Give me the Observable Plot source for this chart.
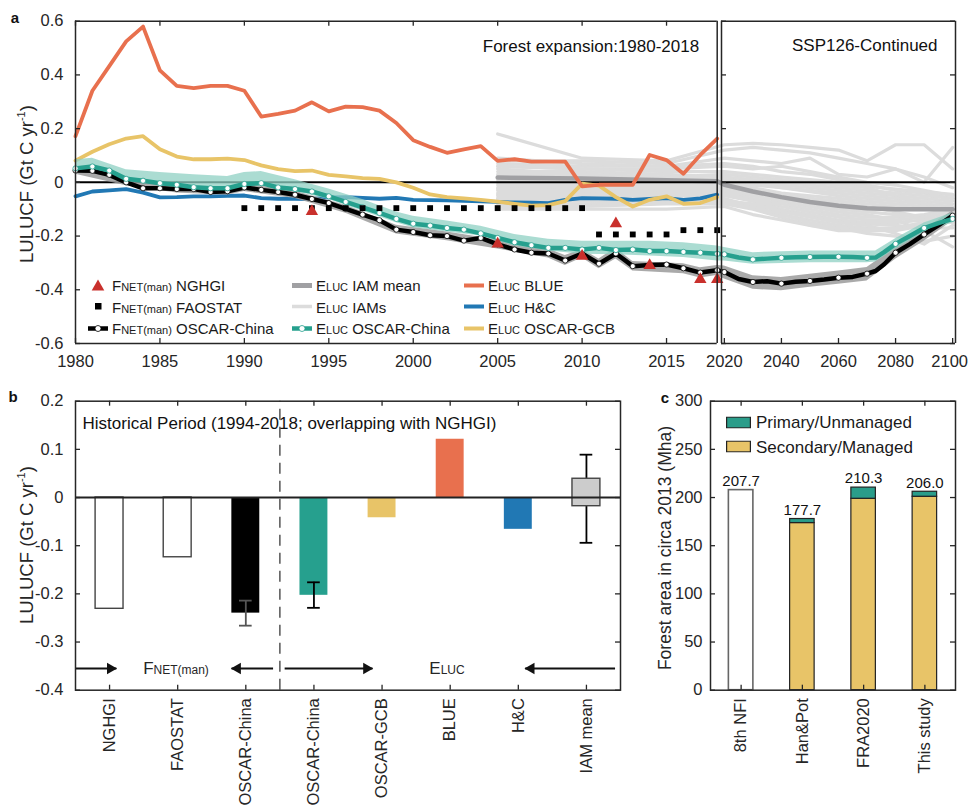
<!DOCTYPE html>
<html><head><meta charset="utf-8">
<script src="https://cdn.jsdelivr.net/npm/d3@7"></script>
<script src="https://cdn.jsdelivr.net/npm/@observablehq/plot@0.6"></script>
<style>
body{margin:0;background:#fff;}
#wrap{position:relative;width:969px;height:807px;overflow:hidden;font-family:"Liberation Sans",Arial,Helvetica,sans-serif;color:#262626;background:#fff;}
.pa{position:absolute;}
.lbl{position:absolute;white-space:nowrap;line-height:1;}
.item{position:absolute;display:flex;align-items:center;white-space:nowrap;line-height:1;transform:translateY(-50%);font-size:15px;color:#1a1a1a;}
.item svg{margin-right:4px;flex:none;}
</style></head><body><div id="wrap"></div>
<script>
// ===================== DATA =====================
// Panel a: annual series 1980-2018
const yearsA = d3.range(1980, 2019);
const blueLine = [0.172,0.341,0.433,0.525,0.580,0.417,0.359,0.351,0.359,0.359,
  0.341,0.245,0.255,0.267,0.298,0.264,0.282,0.280,0.267,0.221,
  0.157,0.132,0.110,0.123,0.135,0.080,0.086,0.077,0.077,0.077,
  -0.015,-0.009,-0.009,-0.009,0.102,0.083,0.032,0.102,0.163];
const gcbLine = [0.081,0.114,0.142,0.163,0.172,0.123,0.096,0.086,0.086,0.088,
  0.083,0.063,0.049,0.042,0.044,0.028,0.022,0.016,0.013,0.000,
  -0.020,-0.045,-0.055,-0.060,-0.065,-0.072,-0.080,-0.087,-0.085,-0.070,
  -0.005,-0.012,-0.055,-0.090,-0.065,-0.052,-0.080,-0.077,-0.055];
const hcLine = [-0.052,-0.034,-0.030,-0.025,-0.038,-0.056,-0.055,-0.052,-0.052,-0.050,
  -0.049,-0.059,-0.061,-0.061,-0.062,-0.056,-0.055,-0.058,-0.061,-0.058,
  -0.065,-0.066,-0.067,-0.069,-0.071,-0.073,-0.075,-0.076,-0.077,-0.065,
  -0.059,-0.060,-0.061,-0.065,-0.062,-0.059,-0.065,-0.060,-0.046];
const tealLeft = [0.052,0.059,0.044,0.013,0.006,-0.003,-0.009,-0.018,-0.022,-0.022,
  -0.006,-0.003,-0.019,-0.025,-0.034,-0.052,-0.073,-0.093,-0.114,-0.136,
  -0.154,-0.161,-0.170,-0.176,-0.190,-0.207,-0.223,-0.234,-0.244,-0.244,
  -0.250,-0.244,-0.252,-0.250,-0.256,-0.256,-0.259,-0.262,-0.266];
const blackLeft = [0.044,0.043,0.028,0.000,-0.022,-0.022,-0.025,-0.025,-0.036,-0.033,
  -0.019,-0.028,-0.036,-0.046,-0.062,-0.077,-0.099,-0.120,-0.141,-0.176,
  -0.185,-0.197,-0.200,-0.217,-0.207,-0.231,-0.250,-0.262,-0.265,-0.291,
  -0.265,-0.303,-0.265,-0.312,-0.308,-0.306,-0.320,-0.336,-0.327];
// SSP126 continuation
const rightYears = [2020,2025,2030,2035,2040,2045,2050,2055,2060,2065,2070,2073,2076,2080,2085,2090,2095,2100];
const tealRight  = [-0.268,-0.280,-0.287,-0.284,-0.281,-0.279,-0.278,-0.277,-0.277,-0.278,-0.281,-0.280,-0.260,-0.229,-0.200,-0.170,-0.152,-0.136];
const blackRight = [-0.334,-0.360,-0.371,-0.368,-0.377,-0.370,-0.367,-0.362,-0.355,-0.352,-0.340,-0.330,-0.305,-0.262,-0.230,-0.194,-0.160,-0.124];
// uncertainty bands
const tealBandYears = [1980,1981,1983,1985,1987,1989,1990,1991,1993,1995,1997,1999,2000,2002,2004,2006,2008,2010,2012,2014,2016,2018,2020,2030,2040,2050,2060,2070,2073,2080,2090,2100];
const tealHi = [0.084,0.090,0.047,0.037,0.028,0.022,0.037,0.040,0.010,-0.025,-0.064,-0.110,-0.126,-0.144,-0.163,-0.194,-0.212,-0.219,-0.219,-0.219,-0.225,-0.237,-0.243,-0.262,-0.258,-0.256,-0.256,-0.256,-0.256,-0.210,-0.151,-0.114];
const tealLo = [0.040,0.040,0.004,-0.009,-0.021,-0.027,-0.012,-0.012,-0.033,-0.064,-0.107,-0.150,-0.169,-0.185,-0.200,-0.237,-0.256,-0.268,-0.270,-0.274,-0.280,-0.293,-0.293,-0.305,-0.302,-0.299,-0.299,-0.299,-0.297,-0.249,-0.188,-0.151];
const blackBandYears = [1980,1983,1986,1989,1990,1993,1996,1999,2002,2005,2008,2009,2010,2011,2012,2013,2016,2017,2018,2020,2030,2040,2050,2060,2070,2080,2090,2100];
const blackHi = [0.055,0.012,-0.013,-0.020,-0.005,-0.033,-0.085,-0.160,-0.185,-0.215,-0.248,-0.272,-0.250,-0.285,-0.245,-0.295,-0.303,-0.318,-0.310,-0.311,-0.348,-0.354,-0.342,-0.330,-0.317,-0.243,-0.175,-0.107];
const blackLo = [0.030,-0.013,-0.040,-0.048,-0.034,-0.060,-0.115,-0.192,-0.217,-0.248,-0.282,-0.310,-0.282,-0.322,-0.285,-0.330,-0.340,-0.356,-0.347,-0.360,-0.398,-0.404,-0.391,-0.379,-0.367,-0.286,-0.219,-0.144];
// inventories
const nghgiYears = [1994,2005,2010,2012,2014,2017,2018];
const nghgiVals  = [-0.108,-0.229,-0.275,-0.154,-0.309,-0.361,-0.361];
const faoYears = d3.range(1990, 2019);
const faoVals = [-0.096,-0.096,-0.096,-0.096,-0.096,-0.096,-0.096,-0.096,-0.096,-0.096,
  -0.096,-0.096,-0.096,-0.096,-0.096,-0.096,-0.096,-0.096,-0.096,-0.096,-0.096,
  -0.194,-0.194,-0.194,-0.194,-0.194,-0.178,-0.178,-0.178];
// IAM scenarios
const iamYears = [2005,2010,2015,2020,2030,2040,2050,2060,2070,2080,2090,2100];
const iamRuns = [
  [0.18,0.09,0.08,0.14,0.145,0.14,0.13,0.12,0.08,0.14,0.14,0.05],
  [0.08,0.08,0.07,0.12,0.13,0.12,0.11,0.09,0.07,0.05,0.00,0.13],
  [0.07,0.06,0.06,0.09,0.08,0.07,0.09,0.03,0.02,0.05,0.02,-0.02],
  [0.09,0.07,0.06,0.07,0.06,0.04,0.03,0.01,-0.01,-0.03,-0.04,-0.06],
  [0.06,0.05,0.05,0.06,0.05,0.06,0.04,0.02,0.00,-0.01,-0.03,-0.05],
  [0.06,0.05,0.04,0.04,0.03,0.02,0.01,0.00,-0.015,-0.025,-0.035,-0.045],
  [0.05,0.03,0.02,0.03,0.02,0.01,0.00,-0.01,-0.02,-0.05,-0.08,-0.12],
  [0.04,0.04,0.03,0.02,0.01,0.00,-0.01,-0.02,-0.03,-0.04,-0.05,-0.06],
  [0.03,0.03,0.02,0.01,0.00,-0.01,-0.02,-0.03,-0.04,-0.05,-0.06,-0.07],
  [0.02,0.02,0.01,0.00,-0.01,-0.02,-0.03,-0.04,-0.05,-0.06,-0.07,-0.08],
  [0.01,0.01,0.00,-0.005,-0.03,-0.05,-0.06,-0.08,-0.09,-0.11,-0.13,-0.15],
  [0.00,-0.005,-0.005,0.01,0.00,-0.02,-0.035,-0.05,-0.06,-0.07,-0.08,-0.09],
  [0.00,0.00,-0.01,-0.01,-0.02,-0.04,-0.05,-0.06,-0.07,-0.08,-0.09,-0.10],
  [-0.01,-0.01,-0.01,-0.015,-0.03,-0.045,-0.06,-0.07,-0.08,-0.09,-0.10,-0.11],
  [-0.02,-0.02,-0.02,-0.02,-0.04,-0.06,-0.08,-0.09,-0.10,-0.10,-0.10,-0.10],
  [-0.025,-0.03,-0.03,-0.035,-0.05,-0.07,-0.09,-0.10,-0.11,-0.12,-0.13,-0.14],
  [-0.04,-0.04,-0.03,-0.03,-0.05,-0.07,-0.09,-0.11,-0.12,-0.14,-0.18,-0.24],
  [-0.03,-0.03,-0.04,-0.04,-0.06,-0.08,-0.10,-0.12,-0.13,-0.13,-0.12,-0.10],
  [-0.045,-0.045,-0.045,-0.045,-0.065,-0.09,-0.11,-0.13,-0.14,-0.14,-0.13,-0.11],
  [-0.05,-0.05,-0.05,-0.05,-0.07,-0.10,-0.12,-0.14,-0.15,-0.15,-0.14,-0.12],
  [-0.06,-0.065,-0.065,-0.065,-0.085,-0.105,-0.125,-0.145,-0.155,-0.16,-0.17,-0.17],
  [-0.07,-0.07,-0.07,-0.06,-0.09,-0.12,-0.14,-0.16,-0.17,-0.17,-0.15,-0.12],
  [-0.06,-0.06,-0.06,-0.07,-0.08,-0.11,-0.13,-0.15,-0.16,-0.19,-0.23,-0.16],
  [-0.08,-0.08,-0.075,-0.075,-0.095,-0.12,-0.15,-0.17,-0.175,-0.17,-0.15,-0.12],
  [-0.09,-0.09,-0.08,-0.08,-0.10,-0.13,-0.16,-0.18,-0.18,-0.18,-0.16,-0.13],
  [-0.10,-0.10,-0.10,-0.09,-0.12,-0.14,-0.16,-0.17,-0.19,-0.20,-0.22,-0.20]
];
const iamMeanYears = [2005,2010,2015,2018,2020,2030,2040,2050,2060,2070,2080,2090,2100];
const iamMean = [0.018,0.014,0.008,0.004,-0.009,-0.034,-0.055,-0.073,-0.087,-0.096,-0.100,-0.100,-0.100];
// axes of panel a
const xDomA = [1980, 2018, 2019, 2101];
const xTicksLeft = [1980,1985,1990,1995,2000,2005,2010,2015];
const xTicksRight = [2020,2040,2060,2080,2100];
const yTicksA = [-0.6,-0.4,-0.2,0,0.2,0.4,0.6];

// Panel b
const bCats = ["NGHGI","FAOSTAT","OSCAR-China","OSCAR-China","OSCAR-GCB","BLUE","H&C","IAM mean"];
const bVals = [-0.231,-0.124,-0.240,-0.203,-0.042,0.121,-0.066,null];
const bFill = ["#ffffff","#ffffff","#000000","#26a08e","#e8c468","#e8704e","#2178b4","#cccccc"];
const bStroke = ["#444444","#444444","none","none","none","none","none","#444444"];
const iamBox = {lo:-0.018, hi:0.039};
const bErr = [{i:3, lo:-0.266, hi:-0.214, c:"#555555"},{i:4, lo:-0.229, hi:-0.176, c:"#000000"},{i:8, lo:-0.094, hi:0.089, c:"#000000"}];
const bYTicks = [-0.4,-0.3,-0.2,-0.1,0,0.1,0.2];
const bArrows = [{x1:0.5,x2:1.1},{x1:3.40,x2:2.79},{x1:3.57,x2:4.86},{x1:8.42,x2:7.1}];
const bArrowY = -0.355;

// Panel c
const cCats = ["8th NFI","Han&Pot","FRA2020","This study"];
const cTotal = [207.7,177.7,210.3,206.0];
const cSecondary = [null,173.5,198.7,200.8];
const cPrimary = [null,4.2,11.6,5.2];
const cYTicks = [0,50,100,150,200,250,300];

// ===================== COLORS / HELPERS =====================
const FONT = '"Liberation Sans", Arial, Helvetica, sans-serif';
const INK = "#262626";
const C_BLUE = "#e8704e", C_GCB = "#e8c468", C_HC = "#2178b4", C_TEAL = "#26a08e", C_RED = "#c9302c";
const wrap = document.getElementById("wrap");
const pts = (xs, ys) => xs.map((x, i) => ({x, y: ys[i]}));
const band = (xs, lo, hi) => xs.map((x, i) => ({x, lo: lo[i], hi: hi[i]}));
function place(svg, left, top) {
  const d = document.createElement("div"); d.className = "pa";
  d.style.left = left + "px"; d.style.top = top + "px";
  d.appendChild(svg); wrap.appendChild(d);
}
function addHTML(html, x, y, o = {}) {
  const d = document.createElement("div"); d.className = "lbl";
  d.innerHTML = html; d.style.left = x + "px"; d.style.top = y + "px";
  d.style.fontSize = (o.size || 16) + "px";
  if (o.bold) d.style.fontWeight = "bold";
  if (o.color) d.style.color = o.color;
  let tf = o.anchor === "left" ? "translate(0,-50%)" : "translate(-50%,-50%)";
  if (o.rotate) tf += " rotate(-90deg)";
  d.style.transform = tf; d.style.zIndex = 5;
  wrap.appendChild(d);
}
const baseStyle = {fontFamily: FONT, fontSize: "16.5px", color: INK, background: "transparent", overflow: "visible"};

// ===================== PANEL A =====================
const tealPts = pts(yearsA.concat(rightYears), tealLeft.concat(tealRight));
const blackPts = pts(yearsA.concat(rightYears), blackLeft.concat(blackRight));
const showCircle = d => d.x <= 2018 || d.x % 10 === 0;
const iamData = iamRuns.flatMap((run, k) => run.map((v, i) => ({run: k, x: iamYears[i], y: v})));
const [yMinA, yMaxA] = [yTicksA[0], yTicksA[yTicksA.length - 1]];

const plotA = Plot.plot({
  width: 969, height: 380,
  marginLeft: 75, marginRight: 14, marginTop: 20.7, marginBottom: 37,
  style: baseStyle,
  x: {type: "linear", domain: xDomA, range: [75, 716.7, 721, 955], label: null},
  y: {domain: [yMinA, yMaxA], label: null},
  marks: [
    Plot.line(iamData, {x: "x", y: "y", z: "run", stroke: "#dcdcdc", strokeWidth: 3.2}),
    Plot.line(pts(iamMeanYears, iamMean), {x: "x", y: "y", stroke: "#a0a0a3", strokeWidth: 4.5}),
    Plot.ruleY([0], {x1: xDomA[0], x2: xDomA[1], stroke: "#000", strokeWidth: 2}),
    Plot.ruleY([0], {x1: xDomA[2], x2: xDomA[3], stroke: "#000", strokeWidth: 2}),
    Plot.line(pts(yearsA, hcLine), {x: "x", y: "y", stroke: C_HC, strokeWidth: 3.8}),
    Plot.line(pts(yearsA, gcbLine), {x: "x", y: "y", stroke: C_GCB, strokeWidth: 3.8}),
    Plot.line(pts(yearsA, blueLine), {x: "x", y: "y", stroke: C_BLUE, strokeWidth: 3.8}),
    Plot.areaY(band(blackBandYears, blackLo, blackHi), {x: "x", y1: "lo", y2: "hi", fill: "#9b9b9b", fillOpacity: 0.85}),
    Plot.areaY(band(tealBandYears, tealLo, tealHi), {x: "x", y1: "lo", y2: "hi", fill: "#8fd0c3", fillOpacity: 0.75}),
    Plot.line(blackPts, {x: "x", y: "y", stroke: "#000", strokeWidth: 4.5}),
    Plot.dot(blackPts.filter(showCircle), {x: "x", y: "y", r: 2.6, fill: "white", stroke: "#000", strokeWidth: 0.8}),
    Plot.line(tealPts, {x: "x", y: "y", stroke: C_TEAL, strokeWidth: 4.5}),
    Plot.dot(tealPts.filter(showCircle), {x: "x", y: "y", r: 2.6, fill: "white", stroke: C_TEAL, strokeWidth: 0.8}),
    Plot.dot(pts(faoYears, faoVals), {x: "x", y: "y", symbol: "square", r: 3.3, fill: "#000"}),
    Plot.dot(pts(nghgiYears, nghgiVals), {x: "x", y: "y", symbol: "triangle", r: 4.6, fill: C_RED}),
    // frames
    Plot.ruleX(xDomA, {y1: yMinA, y2: yMaxA, stroke: INK, strokeWidth: 1.5}),
    Plot.ruleY([yMinA, yMaxA], {x1: xDomA[0], x2: xDomA[1], stroke: INK, strokeWidth: 1.5}),
    Plot.ruleY([yMinA, yMaxA], {x1: xDomA[2], x2: xDomA[3], stroke: INK, strokeWidth: 1.5}),
    // inward ticks
    Plot.ruleX(xTicksLeft, {y1: yMinA, y2: yMinA, insetBottom: 5, stroke: INK, strokeWidth: 1.3}),
    Plot.ruleX(xTicksLeft, {y1: yMaxA, y2: yMaxA, insetBottom: -5, stroke: INK, strokeWidth: 1.3}),
    Plot.ruleX(xTicksRight, {y1: yMinA, y2: yMinA, insetBottom: 5, stroke: INK, strokeWidth: 1.3}),
    Plot.ruleY(yTicksA, {x1: xDomA[0], x2: xDomA[0], insetRight: -5, stroke: INK, strokeWidth: 1.3}),
    Plot.ruleY(yTicksA, {x1: xDomA[2], x2: xDomA[2], insetRight: -5, stroke: INK, strokeWidth: 1.3}),
    Plot.ruleY(yTicksA, {x1: xDomA[3], x2: xDomA[3], insetRight: 5, stroke: INK, strokeWidth: 1.3}),
    Plot.axisX(xTicksLeft.concat(xTicksRight.slice(0, -1)), {anchor: "bottom", tickSize: 0, tickPadding: 12, tickFormat: d => String(d), label: null}),
    Plot.axisX(xTicksRight.slice(-1), {anchor: "bottom", tickSize: 0, tickPadding: 12, tickFormat: d => String(d), label: null, dx: -3}),
    Plot.axisY(yTicksA, {anchor: "left", tickSize: 0, tickPadding: 12, tickFormat: d => String(d), label: null}),
    Plot.text(["Forest expansion:1980-2018"], {x: xDomA[1], y: yMaxA, text: d => d, textAnchor: "end", lineAnchor: "middle", dx: -18, dy: 25, fontSize: 17, fill: "#111"}),
    Plot.text(["SSP126-Continued"], {x: xDomA[3], y: yMaxA, text: d => d, textAnchor: "end", lineAnchor: "middle", dx: -18, dy: 24, fontSize: 17, fill: "#111"})
  ]
});
place(plotA, 0, 0);

// ===================== PANEL B =====================
const bIdx = bCats.map((_, i) => i + 1);
const bRows = bCats.map((c, i) => ({i: i + 1, v: bVals[i], fill: bFill[i], stroke: bStroke[i]}));
const bHalf = 0.205, capHalf = 0.093;
const plotB = Plot.plot({
  width: 640, height: 427,
  marginLeft: 75, marginRight: 20, marginTop: 20.7, marginBottom: 117.3,
  style: baseStyle,
  color: {type: "identity"},
  x: {domain: [0.5, 8.5], label: null},
  y: {domain: [bYTicks[0], bYTicks[bYTicks.length - 1]], label: null},
  marks: [
    Plot.rect(bRows.filter(d => d.v != null), {x1: d => d.i - bHalf, x2: d => d.i + bHalf, y1: 0, y2: "v", fill: "fill", stroke: "stroke", strokeWidth: 1.4}),
    Plot.ruleX(bErr, {x: "i", y1: "lo", y2: "hi", stroke: "c", strokeWidth: 1.8}),
    Plot.ruleY(bErr, {x1: d => d.i - capHalf, x2: d => d.i + capHalf, y: "lo", stroke: "c", strokeWidth: 1.8}),
    Plot.ruleY(bErr, {x1: d => d.i - capHalf, x2: d => d.i + capHalf, y: "hi", stroke: "c", strokeWidth: 1.8}),
    Plot.rect([iamBox], {x1: 8 - bHalf, x2: 8 + bHalf, y1: "lo", y2: "hi", fill: "#cccccc", stroke: "#444", strokeWidth: 1.4}),
    Plot.ruleY([0], {stroke: "#222", strokeWidth: 2}),
    Plot.ruleX([3.5], {y1: bYTicks[0], y2: bYTicks[bYTicks.length - 1], stroke: "#555", strokeWidth: 1.5, strokeDasharray: "11,7"}),
    Plot.link(bArrows, {x1: "x1", x2: "x2", y1: bArrowY, y2: bArrowY, stroke: "#111", strokeWidth: 2}),
    Plot.dot(bArrows.filter(d => d.x2 > d.x1), {x: "x2", y: bArrowY, symbol: "triangle", rotate: 90, r: 4.3, dx: -6, fill: "#111"}),
    Plot.dot(bArrows.filter(d => d.x2 < d.x1), {x: "x2", y: bArrowY, symbol: "triangle", rotate: -90, r: 4.3, dx: 6, fill: "#111"}),
    Plot.frame({stroke: INK, strokeWidth: 1.5}),
    Plot.ruleX(bIdx, {y1: bYTicks[0], y2: bYTicks[0], insetBottom: 5, stroke: INK, strokeWidth: 1.3}),
    Plot.ruleX(bIdx, {y1: 0.2, y2: 0.2, insetBottom: -5, stroke: INK, strokeWidth: 1.3}),
    Plot.ruleY(bYTicks, {x1: 0.5, x2: 0.5, insetRight: -5, stroke: INK, strokeWidth: 1.3}),
    Plot.ruleY(bYTicks, {x1: 8.5, x2: 8.5, insetRight: 5, stroke: INK, strokeWidth: 1.3}),
    Plot.axisX(bIdx, {anchor: "bottom", tickSize: 0, tickPadding: 8, tickRotate: -90, tickFormat: i => bCats[i - 1], label: null}),
    Plot.axisY(bYTicks, {anchor: "left", tickSize: 0, tickPadding: 12, tickFormat: d => String(d), label: null}),
    Plot.text(["Historical Period (1994-2018; overlapping with NGHGI)"], {x: 0.5, y: 0.2, text: d => d, textAnchor: "start", lineAnchor: "middle", dx: 7, dy: 22, fontSize: 17, fill: "#111"})
  ]
});
place(plotB, 0, 380);

// ===================== PANEL C =====================
const cIdx = cCats.map((_, i) => i + 1);
const cHalf = 0.2;
const cRows = cCats.map((c, i) => ({i: i + 1, tot: cTotal[i], sec: cSecondary[i], pri: cPrimary[i]}));
const plotC = Plot.plot({
  width: 329, height: 427,
  marginLeft: 70, marginRight: 14, marginTop: 20.7, marginBottom: 117.3,
  style: baseStyle,
  x: {domain: [0.5, 4.5], label: null},
  y: {domain: [cYTicks[0], cYTicks[cYTicks.length - 1]], label: null},
  marks: [
    Plot.rect(cRows.filter(d => d.sec == null), {x1: d => d.i - cHalf, x2: d => d.i + cHalf, y1: 0, y2: "tot", fill: "white", stroke: "#666", strokeWidth: 1.6}),
    Plot.rect(cRows.filter(d => d.sec != null), {x1: d => d.i - cHalf, x2: d => d.i + cHalf, y1: 0, y2: "sec", fill: C_GCB, stroke: "#222", strokeWidth: 1.2}),
    Plot.rect(cRows.filter(d => d.sec != null), {x1: d => d.i - cHalf, x2: d => d.i + cHalf, y1: "sec", y2: d => d.sec + d.pri, fill: "#2a9d8a", stroke: "#222", strokeWidth: 1.2}),
    Plot.text(cRows, {x: "i", y: "tot", text: d => d.tot.toFixed(1), lineAnchor: "middle", dy: -9, fontSize: 15, fill: "#111"}),
    Plot.frame({stroke: INK, strokeWidth: 1.5}),
    Plot.ruleX(cIdx, {y1: 0, y2: 0, insetBottom: 5, stroke: INK, strokeWidth: 1.3}),
    Plot.ruleX(cIdx, {y1: 300, y2: 300, insetBottom: -5, stroke: INK, strokeWidth: 1.3}),
    Plot.ruleY(cYTicks, {x1: 0.5, x2: 0.5, insetRight: -5, stroke: INK, strokeWidth: 1.3}),
    Plot.ruleY(cYTicks, {x1: 4.5, x2: 4.5, insetRight: 5, stroke: INK, strokeWidth: 1.3}),
    Plot.axisX(cIdx, {anchor: "bottom", tickSize: 0, tickPadding: 8, tickRotate: -90, tickFormat: i => cCats[i - 1], label: null}),
    Plot.axisY(cYTicks, {anchor: "left", tickSize: 0, tickPadding: 8, tickFormat: d => String(d), label: null})
  ]
});
place(plotC, 640, 380);

// ===================== HTML TEXT OVERLAYS =====================
addHTML("a", 15, 17, {size: 15, bold: true, color: "#111"});
addHTML("b", 13, 396, {size: 15, bold: true, color: "#111"});
addHTML("c", 665, 397, {size: 15, bold: true, color: "#111"});
const yLab = 'LULUCF (Gt C yr<sup style="font-size:0.6em;vertical-align:0.7em">-1</sup>)';
addHTML(yLab, 26, 184, {size: 18.5, rotate: true});
addHTML(yLab, 26, 545, {size: 18.5, rotate: true});
addHTML("Forest area in circa 2013 (Mha)", 666, 548, {size: 17.5, rotate: true});
addHTML('F<span style="font-size:12px">NET(man)</span>', 176, 668, {size: 17});
addHTML('E<span style="font-size:12px">LUC</span>', 447, 668, {size: 17});

// legend panel a
const F = 'F<span style="font-size:11px">NET(man)</span>';
const E = 'E<span style="font-size:11px">LUC</span>';
const sw = {
  tri: '<polygon points="10,1 16.3,12 3.7,12" fill="' + C_RED + '"/>',
  sq: '<rect x="7" y="3.5" width="6.5" height="6.5" fill="#000"/>',
  blackC: '<line x1="0" y1="7" x2="20" y2="7" stroke="#000" stroke-width="4.5"/><circle cx="10" cy="7" r="3" fill="#fff" stroke="#000" stroke-width="0.8"/>',
  mean: '<line x1="0" y1="7" x2="20" y2="7" stroke="#a0a0a3" stroke-width="5"/>',
  iams: '<line x1="0" y1="7" x2="20" y2="7" stroke="#dcdcdc" stroke-width="3.5"/>',
  tealC: '<line x1="0" y1="7" x2="20" y2="7" stroke="' + C_TEAL + '" stroke-width="4.5"/><circle cx="10" cy="7" r="3" fill="#fff" stroke="' + C_TEAL + '" stroke-width="0.8"/>',
  blue: '<line x1="0" y1="7" x2="20" y2="7" stroke="' + C_BLUE + '" stroke-width="4"/>',
  hc: '<line x1="0" y1="7" x2="20" y2="7" stroke="' + C_HC + '" stroke-width="4"/>',
  gcb: '<line x1="0" y1="7" x2="20" y2="7" stroke="' + C_GCB + '" stroke-width="4"/>'
};
const legendCols = [88, 292, 464];
const legendRows = [285, 306.7, 328];
const legendA = [
  [0, 0, "tri", F + " NGHGI"], [1, 0, "mean", E + " IAM mean"], [2, 0, "blue", E + " BLUE"],
  [0, 1, "sq", F + " FAOSTAT"], [1, 1, "iams", E + " IAMs"], [2, 1, "hc", E + " H&amp;C"],
  [0, 2, "blackC", F + " OSCAR-China"], [1, 2, "tealC", E + " OSCAR-China"], [2, 2, "gcb", E + " OSCAR-GCB"]
];
legendA.forEach(([c, r, s, t]) => {
  const d = document.createElement("div"); d.className = "item";
  d.style.left = legendCols[c] + "px"; d.style.top = legendRows[r] + "px"; d.style.zIndex = 5;
  d.innerHTML = '<svg width="20" height="14">' + sw[s] + '</svg><span>' + t + '</span>';
  wrap.appendChild(d);
});
// legend panel c
[["#2a9d8a", "Primary/Unmanaged", 422.3], [C_GCB, "Secondary/Managed", 446.7]].forEach(([col, t, y]) => {
  const d = document.createElement("div"); d.className = "item";
  d.style.left = "726px"; d.style.top = y + "px"; d.style.fontSize = "17px"; d.style.zIndex = 5;
  d.innerHTML = '<svg width="25" height="12" style="margin-right:5px"><rect x="0.6" y="0.6" width="23.8" height="10.8" fill="' + col + '" stroke="#222" stroke-width="1.2"/></svg><span>' + t + '</span>';
  wrap.appendChild(d);
});
</script></body></html>
